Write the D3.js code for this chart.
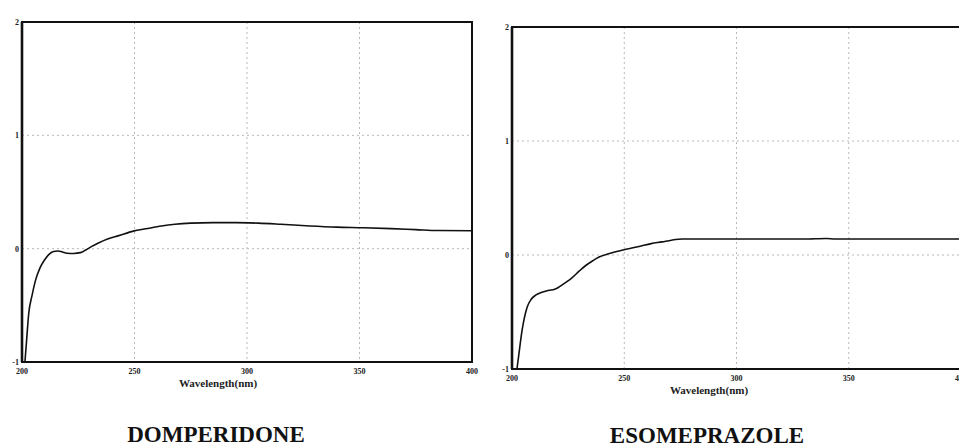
<!DOCTYPE html>
<html>
<head>
  <meta charset="utf-8" />
  <script src="https://d3js.org/d3.v7.min.js"></script>
  <style>
    * { margin: 0; padding: 0; box-sizing: border-box; }
    body { background: #fff; }
    svg { display: block; font-family: "Liberation Serif", "DejaVu Serif", serif; }
    .grid { stroke: #b8b8b8; stroke-width: 1; stroke-dasharray: 2,3; }
    .frame { fill: none; stroke: #111; stroke-width: 2; }
    .curve { fill: none; stroke: #111; stroke-width: 1.6; }
    .tick { font-size: 8px; font-weight: bold; fill: #222; }
    .xtitle { font-size: 11px; font-weight: bold; fill: #222; }
    .title { font-size: 23px; font-weight: bold; fill: #111; }
  </style>
</head>
<body>
  <svg width="959" height="447"></svg>

  <script>
    // ticks shared by both spectra
    const xTicks = [200, 250, 300, 350, 400];
    const yTicks = [-1, 0, 1, 2];

    // DOMPERIDONE spectrum (wavelength nm, absorbance)
    const domWl = [201.3, 202, 203, 204.5, 206, 208, 210, 212, 214, 216, 218, 220, 223, 226, 228.5, 231, 234, 238, 243, 249.5, 255, 262, 268, 275, 285, 295, 305, 315, 328, 340, 352, 364, 375, 385, 400];
    const domAbs = [-1.0, -0.82, -0.57, -0.41, -0.28, -0.17, -0.1, -0.05, -0.025, -0.02, -0.03, -0.04, -0.042, -0.035, -0.01, 0.02, 0.05, 0.085, 0.115, 0.155, 0.175, 0.2, 0.215, 0.225, 0.23, 0.23, 0.225, 0.215, 0.2, 0.19, 0.185, 0.177, 0.168, 0.16, 0.158];

    // ESOMEPRAZOLE spectrum
    const esoWl = [202.2, 203, 204.5, 206.7, 208.5, 210.7, 213, 216.5, 219, 221, 224, 226.7, 230, 233, 236, 238.8, 243, 247.7, 252, 256.6, 262, 266.8, 271, 276, 290, 310, 330, 340, 344, 360, 380, 400];
    const esoAbs = [-1.0, -0.88, -0.66, -0.46, -0.39, -0.35, -0.33, -0.31, -0.3, -0.28, -0.24, -0.2, -0.14, -0.09, -0.05, -0.018, 0.01, 0.035, 0.055, 0.075, 0.1, 0.115, 0.13, 0.14, 0.14, 0.14, 0.14, 0.145, 0.14, 0.14, 0.14, 0.14];

    const svg = d3.select("svg");

    function drawPanel(opts) {
      const x = d3.scaleLinear().domain([200, 400]).range([opts.left, opts.right]);
      const y = d3.scaleLinear().domain([-1, 2]).range([opts.bottom, opts.top]);
      const g = svg.append("g");

      // dotted grid
      g.selectAll(".gx").data(xTicks.slice(1, -1)).join("line")
        .attr("class", "grid")
        .attr("x1", d => x(d)).attr("x2", d => x(d))
        .attr("y1", y(2)).attr("y2", y(-1));
      g.selectAll(".gy").data([0, 1]).join("line")
        .attr("class", "grid")
        .attr("x1", x(200)).attr("x2", x(400))
        .attr("y1", d => y(d)).attr("y2", d => y(d));

      // spectrum
      const pts = opts.wl.map((w, i) => [w, opts.abs[i]]);
      g.append("path")
        .datum(pts)
        .attr("class", "curve")
        .attr("d", d3.line().x(d => x(d[0])).y(d => y(d[1])).curve(d3.curveMonotoneX));

      // frame
      g.append("rect")
        .attr("class", "frame")
        .attr("x", x(200)).attr("y", y(2))
        .attr("width", x(400) - x(200)).attr("height", y(-1) - y(2));
      g.append("line")
        .attr("x1", x(200)).attr("x2", x(200))
        .attr("y1", y(2)).attr("y2", y(-1))
        .attr("stroke", "#111").attr("stroke-width", 2.6);

      // tick labels
      g.selectAll(".ty").data(yTicks).join("text")
        .attr("class", "tick")
        .attr("x", x(200) - 3)
        .attr("y", d => y(d) + 3)
        .attr("text-anchor", "end")
        .text(d => d);
      g.selectAll(".tx").data(xTicks).join("text")
        .attr("class", "tick")
        .attr("x", d => x(d))
        .attr("y", y(-1) + 12)
        .attr("text-anchor", "middle")
        .text(d => d);

      g.append("text")
        .attr("class", "xtitle")
        .attr("x", opts.xTitleX)
        .attr("y", y(-1) + 25)
        .attr("text-anchor", "middle")
        .text("Wavelength(nm)");

      g.append("text")
        .attr("class", "title")
        .attr("x", opts.titleX)
        .attr("y", opts.titleY)
        .attr("text-anchor", "middle")
        .text(opts.title);
    }

    drawPanel({
      left: 22, right: 472, top: 22, bottom: 362,
      wl: domWl, abs: domAbs,
      xTitleX: 218, titleX: 216, titleY: 442, title: "DOMPERIDONE"
    });

    drawPanel({
      left: 512, right: 961, top: 27, bottom: 369,
      wl: esoWl, abs: esoAbs,
      xTitleX: 709, titleX: 707, titleY: 443, title: "ESOMEPRAZOLE"
    });
  </script>
</body>
</html>
